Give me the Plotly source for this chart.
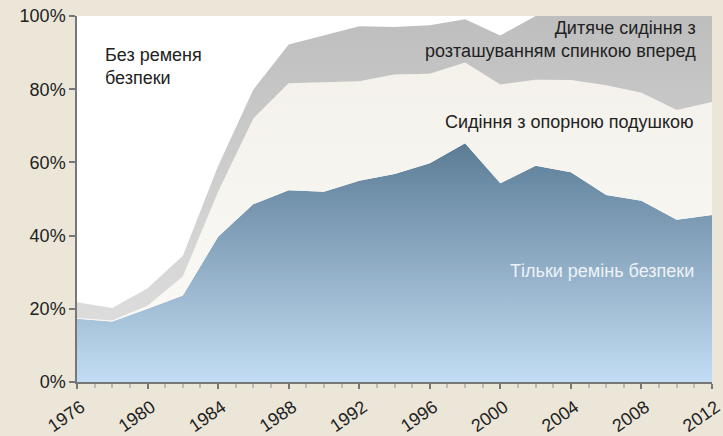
import plotly.graph_objects as go

years = list(range(1976, 2013, 2))
# shares (%) by restraint type
belt_only = [17.3, 16.5, 20.0, 23.6, 39.7, 48.6, 52.4, 52.0, 55.0, 56.8, 59.8, 65.2, 54.3, 59.1, 57.3, 51.1, 49.5, 44.3, 45.6]
booster = [0.2, 0.3, 0.8, 5.2, 12.3, 23.4, 29.2, 30.0, 27.2, 27.2, 24.4, 22.1, 27.0, 23.5, 25.2, 30.0, 29.5, 30.0, 30.9]
forward_seat = [4.3, 3.4, 4.8, 5.7, 7.0, 7.9, 10.6, 12.7, 15.0, 13.0, 13.3, 11.8, 13.4, 17.4, 17.5, 18.9, 21.0, 25.7, 23.5]

y_ticks = [0, 20, 40, 60, 80, 100]
y_labels = [f"{v}%" for v in y_ticks]
x_ticks = list(range(1976, 2013, 4))

FONT = "Liberation Sans"
TXT = "#222222"

fig = go.Figure()
fig.add_trace(go.Scatter(
    x=years, y=belt_only, stackgroup="s", mode="lines", line=dict(width=0),
    fillgradient=dict(type="vertical", start=0, stop=65,
                      colorscale=[[0, "#c2ddf3"], [1, "#5c7c96"]]),
    hoverinfo="skip", name="Тільки ремінь безпеки"))
fig.add_trace(go.Scatter(
    x=years, y=booster, stackgroup="s", mode="lines", line=dict(width=0),
    fillgradient=dict(type="vertical", start=0, stop=100,
                      colorscale=[[0, "#fbfaf7"], [1, "#f3f0e9"]]),
    hoverinfo="skip", name="Сидіння з опорною подушкою"))
fig.add_trace(go.Scatter(
    x=years, y=forward_seat, stackgroup="s", mode="lines", line=dict(width=0),
    fillgradient=dict(type="vertical", start=17, stop=100,
                      colorscale=[[0, "#dcdcdc"], [1, "#bebebe"]]),
    hoverinfo="skip", name="Дитяче сидіння"))

ann_font = dict(family=FONT, size=18, color=TXT)
fig.add_annotation(x=1977.47, y=86.3, xref="x", yref="y", text="Без ременя<br>безпеки",
                   showarrow=False, xanchor="left", yanchor="middle", align="left", font=ann_font)
fig.add_annotation(x=2011.2, y=93.6, xref="x", yref="y",
                   text="Дитяче сидіння з<br>розташуванням спинкою вперед",
                   showarrow=False, xanchor="right", yanchor="middle", align="right", font=ann_font)
fig.add_annotation(x=2011.1, y=71.0, xref="x", yref="y", text="Сидіння з опорною подушкою",
                   showarrow=False, xanchor="right", yanchor="middle", align="right", font=ann_font)
fig.add_annotation(x=2011.1, y=30.2, xref="x", yref="y", text="Тільки ремінь безпеки",
                   showarrow=False, xanchor="right", yanchor="middle", align="right",
                   font=dict(family=FONT, size=18, color="#eef3f8"))

fig.update_layout(
    width=723, height=436,
    margin=dict(l=77, r=11, t=16, b=54),
    paper_bgcolor="#ebe6d8", plot_bgcolor="#ffffff",
    showlegend=False,
    font=dict(family=FONT, size=18, color=TXT),
    xaxis=dict(range=[1976, 2012], tickvals=x_ticks, tickangle=-35, automargin=False,
               ticks="outside", ticklen=5, tickcolor="#777777", tickwidth=1.5,
               ticklabelshift=4, ticklabelstandoff=1, ticklabeloverflow="allow",
               showline=True, linecolor="#777777", linewidth=1.5,
               showgrid=False, zeroline=False,
               tickfont=dict(family=FONT, size=18, color=TXT),
               minor=dict(dtick=1, tick0=1976, ticks="outside", ticklen=4,
                          tickcolor="#bbbbbb", showgrid=False)),
    yaxis=dict(range=[0, 100], tickvals=y_ticks, ticktext=y_labels, automargin=False,
               ticks="outside", ticklen=6, tickcolor="#777777", tickwidth=1.5,
               showline=True, linecolor="#777777", linewidth=1.5,
               showgrid=False, zeroline=False,
               tickfont=dict(family=FONT, size=18, color=TXT)),
)

fig.write_html("out.html", config={"displayModeBar": False},
               post_script="document.body.style.margin='0';document.body.style.padding='0';"
                           "document.body.style.overflow='hidden';")
